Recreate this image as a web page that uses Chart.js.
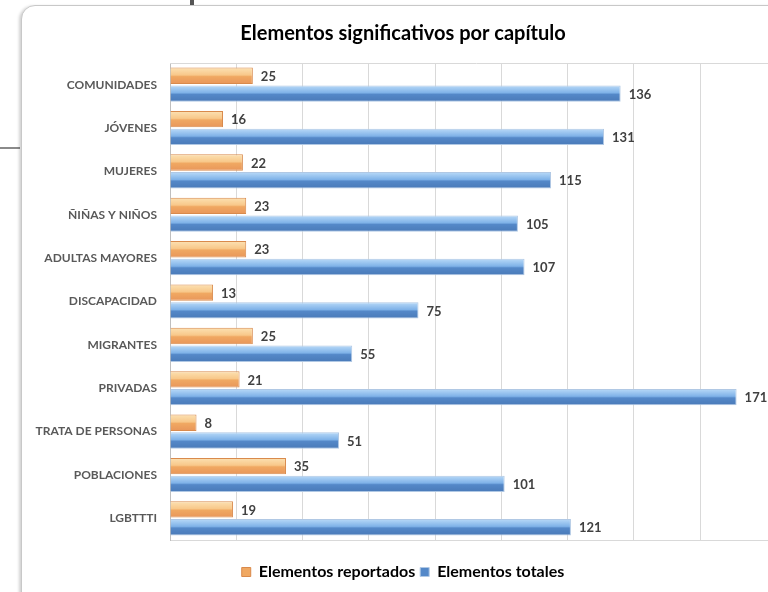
<!DOCTYPE html>
<html><head><meta charset="utf-8">
<script src="https://cdn.jsdelivr.net/npm/chart.js@4/dist/chart.umd.min.js"></script>
<style>
html,body{margin:0;padding:0;background:#fff;width:768px;height:592px;overflow:hidden;position:relative;}
#card{position:absolute;left:21px;top:5px;width:790px;height:600px;border:1px solid #c8c8c8;border-radius:14px;background:#fff;box-shadow:-2px 1px 3px rgba(0,0,0,0.18);overflow:hidden;}
#wrap{position:absolute;left:1px;top:0;width:760px;height:587px;}
#vline{position:absolute;left:190px;top:0;width:4px;height:5px;background:#555;}
#hline{position:absolute;left:0;top:147px;width:20px;height:2px;background:#8a8a8a;}
</style></head>
<body>
<div id="vline"></div><div id="hline"></div>
<div id="card"><div id="wrap"><canvas id="c" width="760" height="587"></canvas></div></div>
<script>
const categories = ["COMUNIDADES","JÓVENES","MUJERES","ÑIÑAS Y NIÑOS","ADULTAS MAYORES","DISCAPACIDAD","MIGRANTES","PRIVADAS","TRATA DE PERSONAS","POBLACIONES","LGBTTTI"];
const reportados = [25,16,22,23,23,13,25,21,8,35,19];
const totales = [136,131,115,105,107,75,55,171,51,101,121];
const seriesNames = ["Elementos reportados","Elementos totales"];

const FONT = "Lato, 'Open Sans', sans-serif";

const gradStops = [
  [[0,'#FCE2B4'],[0.45,'#F8C88A'],[0.55,'#F0A862'],[1,'#E8965A']],
  [[0,'#B9DAF8'],[0.45,'#7FB2E8'],[0.55,'#5488C8'],[1,'#4A7AB8']]
];

const gradPlugin = {
  id:'grad',
  beforeDatasetsDraw(chart){
    const ctx = chart.ctx;
    chart.data.datasets.forEach((ds,di)=>{
      const meta = chart.getDatasetMeta(di);
      meta.data.forEach(el=>{
        const top = el.y - el.height/2, bot = el.y + el.height/2;
        const g = ctx.createLinearGradient(0,top,0,bot);
        gradStops[di].forEach(s=>g.addColorStop(s[0],s[1]));
        el.options.backgroundColor = g;
      });
    });
  }
};

const labelPlugin = {
  id:'vals',
  afterDatasetsDraw(chart){
    const ctx = chart.ctx;
    ctx.save();
    ctx.font = "bold 13px " + FONT;
    ctx.fillStyle = '#404040';
    ctx.textBaseline = 'middle';
    ctx.textAlign = 'left';
    chart.data.datasets.forEach((ds,di)=>{
      const meta = chart.getDatasetMeta(di);
      meta.data.forEach((el,i)=>{
        ctx.fillText(String(ds.data[i]), el.x + 8, el.y + 1);
      });
    });
    const a = chart.chartArea;
    ctx.strokeStyle = '#d9d9d9';
    ctx.lineWidth = 1;
    ctx.beginPath();
    ctx.moveTo(a.left, a.top + 0.5);
    ctx.lineTo(a.right, a.top + 0.5);
    ctx.stroke();
    ctx.restore();
  }
};

new Chart(document.getElementById('c'), {
  type:'bar',
  data:{
    labels: categories,
    datasets:[
      {label:seriesNames[0], data:reportados, backgroundColor:(c)=>'#F0A862', borderColor:'#D98A4C', borderWidth:1, categoryPercentage:0.82, barPercentage:0.92},
      {label:seriesNames[1], data:totales, backgroundColor:(c)=>'#5488C8', borderColor:'#B0C8E4', borderWidth:1, categoryPercentage:0.82, barPercentage:0.92}
    ]
  },
  options:{
    indexAxis:'y',
    responsive:false,
    animation:false,
    layout:{padding:{left:0,right:0,top:0,bottom:3}},
    scales:{
      x:{
        min:0, max:185,
        afterFit(s){ s.height = 19; },
        ticks:{display:false, stepSize:20},
        grid:{color:'#d9d9d9', drawTicks:false, lineWidth:1},
        border:{display:true, color:'#d9d9d9'}
      },
      y:{
        afterFit(s){ s.width = 147; },
        ticks:{color:'#595959', font:{family:FONT, size:12, weight:'bold'}, padding:13},
        grid:{display:false, drawTicks:false},
        border:{display:true, color:'#bfbfbf'}
      }
    },
    plugins:{
      title:{display:true, text:'Elementos significativos por capítulo', color:'#000', font:{family:FONT, size:20, weight:'bold'}, padding:{top:16, bottom:17}},
      legend:{position:'bottom', labels:{color:'#000', font:{family:FONT, size:16, weight:'bold'}, boxWidth:9, boxHeight:9, padding:5,
        generateLabels(chart){
          return chart.data.datasets.map((d,i)=>({text:d.label, fillStyle:gradStops[i][2][1], strokeStyle:d.borderColor, lineWidth:1, datasetIndex:i, hidden:false}));
        }}},
      tooltip:{enabled:false}
    }
  },
  plugins:[gradPlugin,labelPlugin]
});
</script>
</body></html>
